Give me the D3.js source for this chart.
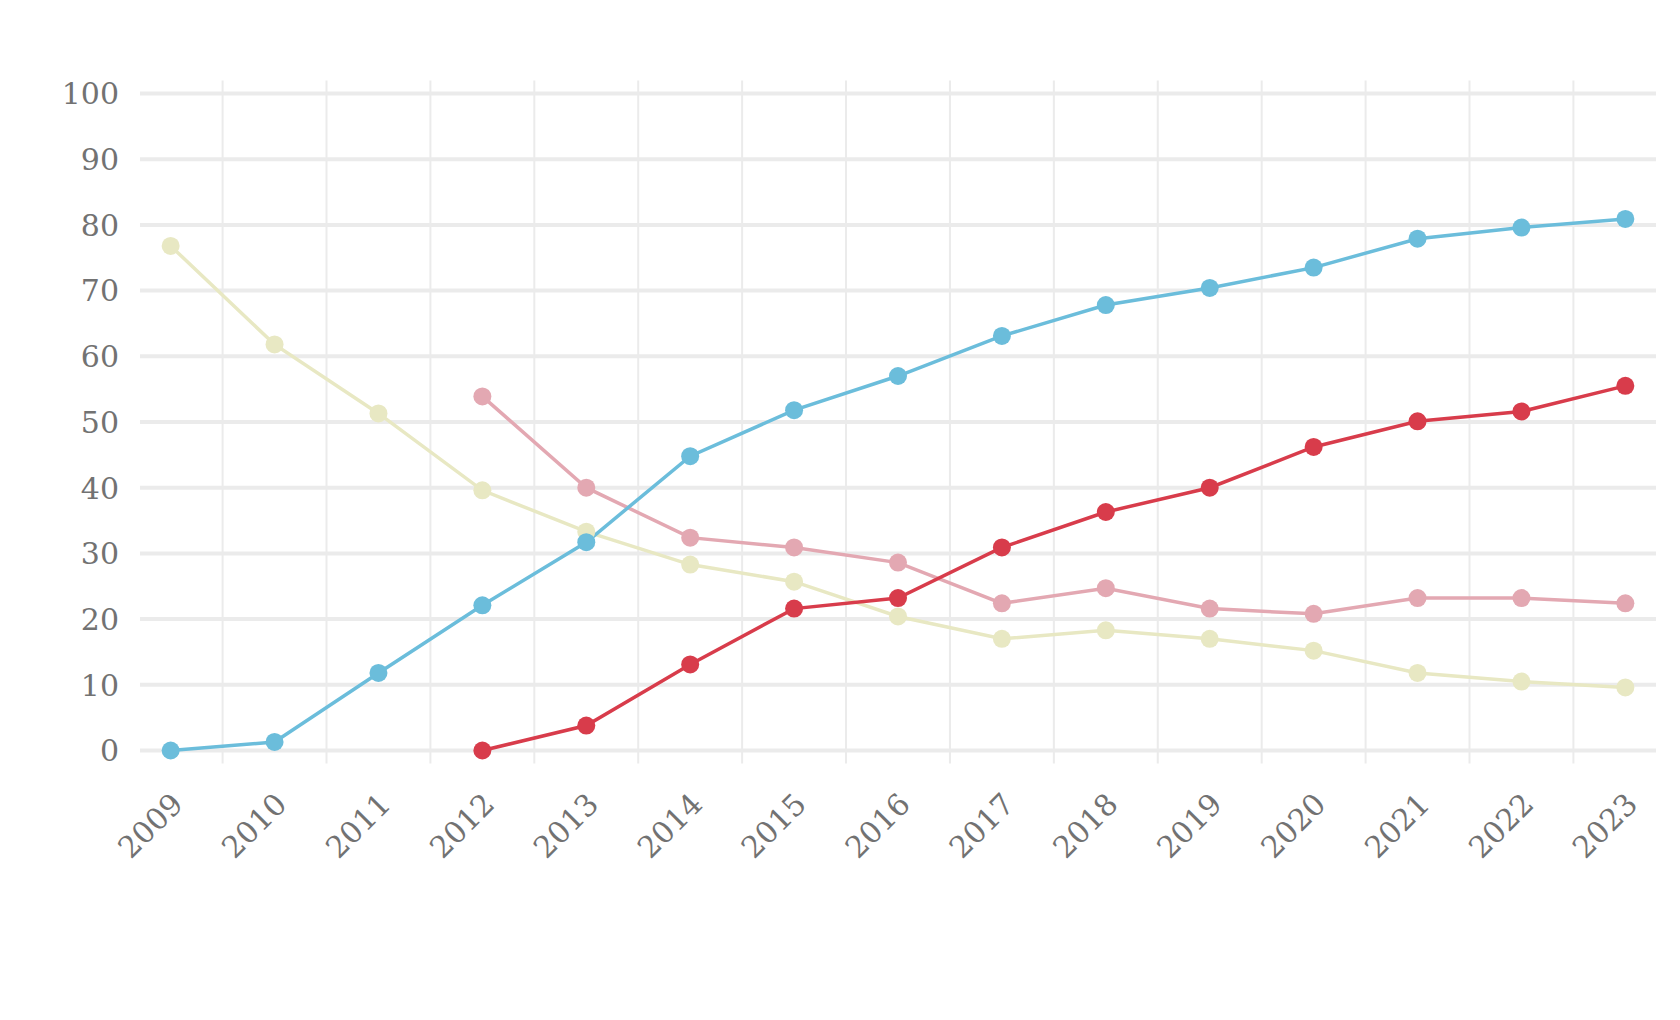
<!DOCTYPE html>
<html>
<head>
<meta charset="utf-8">
<script src="https://cdn.jsdelivr.net/npm/d3@7"></script>
<style>
  body { margin: 0; background: #fff; }
  text { font-family: "DejaVu Serif", serif; fill: #727272; }
</style>
</head>
<body>
<script>
// data
const years = [2009, 2010, 2011, 2012, 2013, 2014, 2015, 2016, 2017, 2018, 2019, 2020, 2021, 2022, 2023];
const blueValues   = [0, 1.3, 11.8, 22.1, 31.7, 44.8, 51.8, 57.0, 63.1, 67.8, 70.4, 73.5, 77.9, 79.6, 80.9];
const redValues    = [null, null, null, 0, 3.8, 13.1, 21.6, 23.2, 30.9, 36.3, 40.0, 46.2, 50.1, 51.6, 55.5];
const pinkValues   = [null, null, null, 53.9, 40.0, 32.4, 30.9, 28.6, 22.4, 24.7, 21.6, 20.8, 23.2, 23.2, 22.4];
const yellowValues = [76.8, 61.8, 51.3, 39.6, 33.3, 28.3, 25.7, 20.4, 17.0, 18.3, 17.0, 15.2, 11.8, 10.5, 9.6];
const yTicks = [0, 10, 20, 30, 40, 50, 60, 70, 80, 90, 100];

const series = [
  { name: 'yellow', color: '#e8e8c3', values: yellowValues },
  { name: 'pink',   color: '#e3a8b2', values: pinkValues },
  { name: 'blue',   color: '#6bbddb', values: blueValues },
  { name: 'red',    color: '#d83c4b', values: redValues }
];

const width = 1680, height = 1020;
const plotLeft = 140, plotRight = 1656, plotTop = 80.5, plotBottom = 763.5;

const svg = d3.select('body').append('svg')
    .attr('width', width)
    .attr('height', height);

const x = d3.scalePoint()
    .domain(years)
    .range([plotLeft, plotRight])
    .padding(0.295);

const y = d3.scaleLinear()
    .domain([0, 100])
    .range([750.5, 93.5]);

const step = x.step();

// vertical grid between years
svg.append('g')
    .selectAll('line')
    .data(years.slice(0, -1))
    .enter()
    .append('line')
    .attr('x1', d => x(d) + step / 2)
    .attr('x2', d => x(d) + step / 2)
    .attr('y1', plotTop)
    .attr('y2', plotBottom)
    .attr('stroke', '#ebebeb')
    .attr('stroke-width', 2);

// horizontal grid
svg.append('g')
    .selectAll('line')
    .data(yTicks)
    .enter()
    .append('line')
    .attr('x1', plotLeft)
    .attr('x2', plotRight)
    .attr('y1', d => y(d))
    .attr('y2', d => y(d))
    .attr('stroke', '#ebebeb')
    .attr('stroke-width', 4);

// y labels
svg.append('g')
    .selectAll('text')
    .data(yTicks)
    .enter()
    .append('text')
    .attr('x', 119)
    .attr('y', d => y(d))
    .attr('dy', '0.36em')
    .attr('text-anchor', 'end')
    .attr('font-size', '30px')
    .text(d => d);

// x labels
svg.append('g')
    .selectAll('text')
    .data(years)
    .enter()
    .append('text')
    .attr('transform', d => `translate(${x(d) + 14}, 806) rotate(-45)`)
    .attr('text-anchor', 'end')
    .attr('font-size', '30px')
    .text(d => d);

const line = d3.line()
    .defined(d => d.v !== null)
    .x(d => x(d.year))
    .y(d => y(d.v));

series.forEach(s => {
  const pts = years.map((yr, i) => ({ year: yr, v: s.values[i] }));
  svg.append('path')
      .datum(pts)
      .attr('d', line)
      .attr('fill', 'none')
      .attr('stroke', s.color)
      .attr('stroke-width', 3.5);
});

series.forEach(s => {
  const pts = years.map((yr, i) => ({ year: yr, v: s.values[i] })).filter(d => d.v !== null);
  svg.append('g')
      .selectAll('circle')
      .data(pts)
      .enter()
      .append('circle')
      .attr('cx', d => x(d.year))
      .attr('cy', d => y(d.v))
      .attr('r', 9)
      .attr('fill', s.color);
});
</script>
</body>
</html>
